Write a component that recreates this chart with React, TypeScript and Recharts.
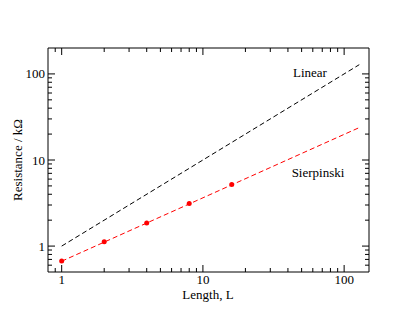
import React from 'react';
import { ComposedChart, Line, Scatter, XAxis, YAxis } from 'recharts';

// Linear reference line
const linearL = [1, 128];
const linearR = [1, 128];
// Sierpinski fit line
const fitL = [1, 128];
const fitR = [0.667, 23.8];
// Sierpinski measured points
const sierpL = [1, 2, 4, 8, 16];
const sierpR = [0.67, 1.12, 1.86, 3.12, 5.2];

const xMajor = [1, 10, 100];
const xMinor = [0.9, 2, 3, 4, 5, 6, 7, 8, 9, 20, 30, 40, 50, 60, 70, 80, 90];
const yMajor = [1, 10, 100];
const yMinor = [0.6, 0.7, 0.8, 0.9, 2, 3, 4, 5, 6, 7, 8, 9, 20, 30, 40, 50, 60, 70, 80, 90];

const xTicks = [...xMajor, ...xMinor].sort((a, b) => a - b);
const yTicks = [...yMajor, ...yMinor].sort((a, b) => a - b);

const linearData = linearL.map((x, i) => ({ x, y: linearR[i] }));
const fitData = fitL.map((x, i) => ({ x, y: fitR[i] }));
const sierpData = sierpL.map((x, i) => ({ x, y: sierpR[i] }));

const FONT = '"Liberation Serif", "Times New Roman", serif';
const MAJ = 7;
const MIN = 4;

const BottomTick = (p: any) => {
  const { x, y, payload } = p;
  const major = xMajor.includes(payload.value);
  return (
    <g>
      <line x1={x} x2={x} y1={y} y2={y - (major ? MAJ : MIN)} stroke="#000" strokeWidth={1} />
      {major && (
        <text x={x} y={y + 12} textAnchor="middle" fontFamily={FONT} fontSize={13} fill="#000">
          {payload.value}
        </text>
      )}
    </g>
  );
};

const TopTick = (p: any) => {
  const { x, y, payload } = p;
  const major = xMajor.includes(payload.value);
  return <line x1={x} x2={x} y1={y} y2={y + (major ? MAJ : MIN)} stroke="#000" strokeWidth={1} />;
};

const LeftTick = (p: any) => {
  const { x, y, payload } = p;
  const major = yMajor.includes(payload.value);
  return (
    <g>
      <line x1={x} x2={x + (major ? MAJ : MIN)} y1={y} y2={y} stroke="#000" strokeWidth={1} />
      {major && (
        <text x={x - 3} y={y + 4.5} textAnchor="end" fontFamily={FONT} fontSize={13} fill="#000">
          {payload.value}
        </text>
      )}
    </g>
  );
};

const RightTick = (p: any) => {
  const { x, y, payload } = p;
  const major = yMajor.includes(payload.value);
  return <line x1={x} x2={x - (major ? MAJ : MIN)} y1={y} y2={y} stroke="#000" strokeWidth={1} />;
};

const Dot = (p: any) => <circle cx={p.cx} cy={p.cy} r={2.5} fill="#ff0000" />;

const axisCommonX = {
  dataKey: 'x',
  type: 'number' as const,
  scale: 'log' as const,
  domain: [0.8, 150],
  allowDataOverflow: true,
  ticks: xTicks,
  interval: 0,
  tickLine: false,
  tickSize: 0,
  tickMargin: 0,
  height: 1,
  axisLine: { stroke: '#000', strokeWidth: 1 },
};

const axisCommonY = {
  type: 'number' as const,
  scale: 'log' as const,
  domain: [0.5, 200],
  allowDataOverflow: true,
  ticks: yTicks,
  interval: 0,
  tickLine: false,
  tickSize: 0,
  tickMargin: 0,
  width: 1,
  axisLine: { stroke: '#000', strokeWidth: 1 },
};

export default function App() {
  return (
    <ComposedChart
      width={407}
      height={313}
      margin={{ top: 39, right: 45, bottom: 48, left: 39 }}
    >
      <XAxis xAxisId={0} {...axisCommonX} tick={BottomTick} />
      <XAxis xAxisId="top" orientation="top" {...axisCommonX} tick={TopTick} />
      <YAxis yAxisId={0} {...axisCommonY} tick={LeftTick} />
      <YAxis yAxisId="right" orientation="right" {...axisCommonY} tick={RightTick} />
      <Line
        data={linearData}
        dataKey="y"
        stroke="#000"
        strokeWidth={1}
        strokeDasharray="5 3"
        dot={false}
        activeDot={false}
        isAnimationActive={false}
      />
      <Line
        data={fitData}
        dataKey="y"
        stroke="#ff0000"
        strokeWidth={1}
        strokeDasharray="5 3"
        dot={false}
        activeDot={false}
        isAnimationActive={false}
      />
      <Scatter data={sierpData} dataKey="y" shape={Dot} isAnimationActive={false} />
      <text x={200} y={291} textAnchor="middle" fontFamily={FONT} fontSize={13} fill="#000">
        Length, L
      </text>
      <text
        x={14}
        y={152}
        transform="rotate(-90, 14, 152)"
        textAnchor="middle"
        fontFamily={FONT}
        fontSize={13}
        fill="#000"
      >
        Resistance / kΩ
      </text>
      <text x={302} y={69} textAnchor="middle" fontFamily={FONT} fontSize={13} fill="#000">
        Linear
      </text>
      <text x={310} y={169} textAnchor="middle" fontFamily={FONT} fontSize={13} fill="#000">
        Sierpinski
      </text>
    </ComposedChart>
  );
}
